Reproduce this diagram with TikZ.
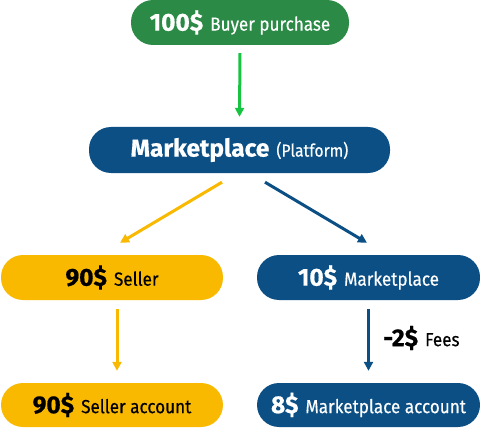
\documentclass[tikz,border=0pt]{standalone}
\usepackage{fontspec}
\setmainfont{Fira Sans}
\newfontfamily\numfont[BoldFeatures={FakeBold=0.6}]{Fira Sans}
\newfontfamily\lblfont[FakeStretch=0.9,FakeBold=0.4]{Fira Sans}
\usetikzlibrary{arrows.meta}
\definecolor{cgreen}{HTML}{2B8A45}
\definecolor{cgreenarr}{HTML}{16C442}
\definecolor{cblue}{HTML}{0B4F85}
\definecolor{cyellow}{HTML}{F8B900}
\newcommand{\numtxt}[1]{{\numfont\fontsize{24.5}{24.5}\selectfont\bfseries #1}}
\newcommand{\lbltxt}[1]{{\lblfont\fontsize{19}{19}\selectfont #1}}
\newcommand{\gap}{\hspace{7pt}}
\begin{document}
\begin{tikzpicture}[x=1pt,y=-1pt,
  pill/.style={draw=none, rounded corners=22pt, minimum height=45pt, inner sep=0pt, align=center},
  gpill/.style={pill, fill=cgreen, text=white},
  bpill/.style={pill, fill=cblue, text=white},
  ypill/.style={pill, fill=cyellow, text=black},
  arr/.style={line width=3pt, -{Triangle[length=9pt,width=9pt]}}
]
\useasboundingbox (0,0) rectangle (480,428);

\node[gpill, minimum width=218pt] (buy) at (240,22.5) {\numtxt{100\$}\gap\lbltxt{Buyer purchase}};
\node[bpill, minimum width=301pt, minimum height=46pt] (plat) at (239.5,150) {\numtxt{Marketplace}\gap{\lblfont\fontsize{17.5}{17.5}\selectfont (Platform)}};
\node[ypill, minimum width=222pt] (seller) at (112,277.5) {\numtxt{90\$}\gap\lbltxt{Seller}};
\node[bpill, minimum width=223pt] (mkt) at (368.5,277.5) {\numtxt{10\$}\gap\lbltxt{Marketplace}};
\node[ypill, minimum width=222pt, minimum height=44pt] (sacc) at (112,405) {\numtxt{90\$}\gap\lbltxt{Seller account}};
\node[bpill, minimum width=223pt, minimum height=44pt] (macc) at (368.5,405) {\numtxt{8\$}\gap\lbltxt{Marketplace account}};
\node[anchor=west, inner sep=0pt] (fees) at (383,338) {\numtxt{-2\$}\gap\lbltxt{Fees}};

\draw[arr, cgreenarr] ([yshift=-8pt]buy.south) -- ([yshift=10pt]plat.north);
\draw[arr, cyellow] ([xshift=-17.5pt,yshift=-9pt]plat.south) -- ([xshift=8pt,yshift=12pt]seller.north);
\draw[arr, cblue] ([xshift=25.5pt,yshift=-9pt]plat.south) -- ([xshift=-1.5pt,yshift=12pt]mkt.north);
\draw[arr, cyellow] ([xshift=5pt,yshift=-9pt]seller.south) -- ([xshift=5pt,yshift=12pt]sacc.north);
\draw[arr, cblue] ([yshift=-9pt]mkt.south) -- ([yshift=12pt]macc.north);
\end{tikzpicture}
\end{document}
